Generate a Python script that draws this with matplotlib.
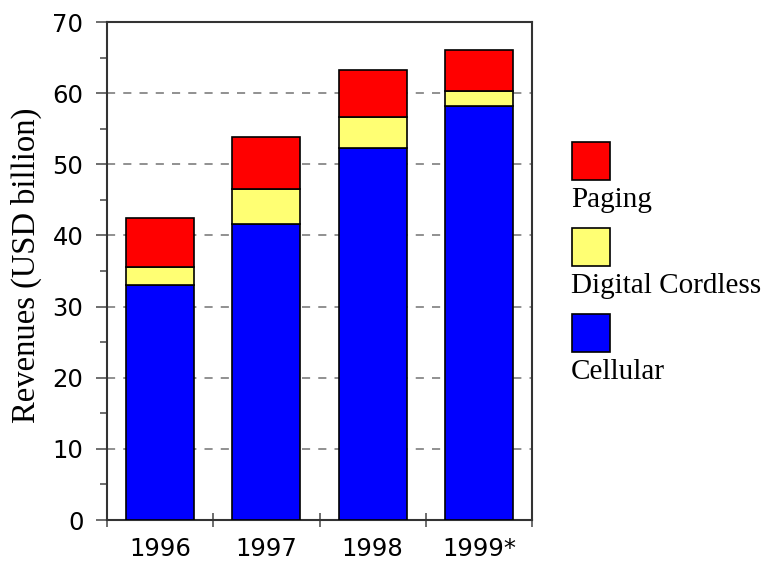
import numpy as np
import matplotlib
matplotlib.use("Agg")
import matplotlib.pyplot as plt
from matplotlib.patches import Rectangle

years = ["1996", "1997", "1998", "1999*"]
cellular = [33.1, 41.6, 52.3, 58.2]
cordless = [2.5, 4.9, 4.4, 2.1]
paging = [6.8, 7.4, 6.5, 5.8]

series = [("Cellular", cellular, "#0000ff"),
          ("Digital Cordless", cordless, "#ffff73"),
          ("Paging", paging, "#ff0000")]

fig = plt.figure(figsize=(7.65, 5.61), dpi=100)
ax = fig.add_axes([107 / 765, 41 / 561, 425 / 765, 498 / 561])

x = np.arange(len(years)) + 0.5
bottom = np.zeros(len(years))
for name, vals, col in series:
    ax.bar(x, vals, width=0.64, bottom=bottom, color=col,
           edgecolor="black", linewidth=1.2, zorder=3)
    bottom += np.array(vals)

ax.set_xlim(0, 4)
ax.set_ylim(0, 70)
ax.set_yticks(np.arange(0, 71, 10))
ax.set_yticks(np.arange(5, 70, 10), minor=True)
ax.set_xticks(np.arange(0, 5))
ax.set_xticklabels([])
ax.set_xticks(x, minor=True)
ax.set_xticklabels(years, minor=True)

for lab in ax.get_yticklabels() + ax.get_xticklabels(minor=True):
    lab.set_fontfamily("DejaVu Sans")
    lab.set_fontsize(17.5)

ax.tick_params(axis="y", which="major", direction="out", length=8,
               width=1.2, color="#555555", pad=9)
ax.tick_params(axis="y", which="minor", direction="out", length=5,
               width=1.2, color="#555555")
ax.tick_params(axis="x", which="major", direction="inout", length=10,
               width=1.2, color="#555555")
ax.tick_params(axis="x", which="minor", length=0, pad=12)

for s in ax.spines.values():
    s.set_color("#333333")
    s.set_linewidth(1.5)

ax.set_axisbelow(True)
ax.yaxis.grid(True, which="major", color="#888888", linestyle=(0, (4.5, 4.5)),
              linewidth=1.3)

ax.set_ylabel("Revenues (USD billion)", fontfamily="Liberation Serif",
              fontsize=23.5)
ax.yaxis.set_label_coords(-0.152, 0.512)

# legend drawn by hand, box above label
legend_items = [("Paging", "#ff0000", 142), ("Digital Cordless", "#ffff73", 228),
                ("Cellular", "#0000ff", 314)]
W, H = 765.0, 561.0
for name, col, top in legend_items:
    fig.add_artist(Rectangle((572 / W, (H - top - 38) / H), 38 / W, 38 / H,
                             transform=fig.transFigure, facecolor=col,
                             edgecolor="black", linewidth=1.2))
    fig.text(571 / W, (H - top - 58) / H, name, fontfamily="Liberation Serif",
             fontsize=21, ha="left", va="center")

fig.savefig("out.png", dpi=100)
